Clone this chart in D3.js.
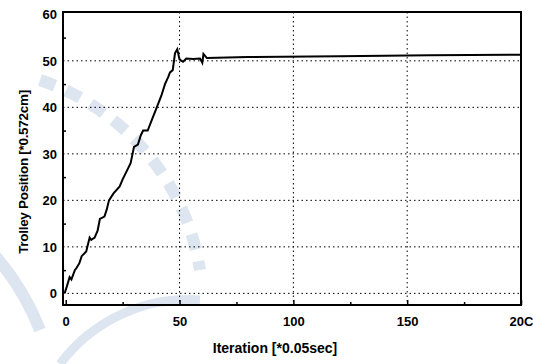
<!DOCTYPE html>
<head>
  <meta charset="utf-8">
  <script src="https://d3js.org/d3.v7.min.js"></script>
  <style>
    body { margin:0; background:#fff; }
    svg { display:block; }
    .tick text { font-family: "Liberation Sans", Arial, sans-serif; font-weight: bold; font-size: 13px; fill:#000; }
    .lbl { font-family: "Liberation Sans", Arial, sans-serif; font-weight: bold; font-size: 14px; }
  </style>
</head>
<body>
<script>
// trolley position
var iter = [-0.5, 0.5, 1.7, 2.5, 4, 4.8, 6, 7, 9, 10.5, 11.2, 12.7, 14, 15, 17, 18, 19, 21, 23.7, 25, 27, 28.5, 30, 31.7, 33, 34, 36, 38, 40, 42, 43.6, 45, 45.8, 47, 48, 49, 50, 51.5, 53, 56, 59, 60, 60.5, 62, 80, 120, 160, 200];
var pos  = [0, 1.5, 3.5, 3, 5, 5.5, 6.5, 8, 9, 12, 11.5, 12, 13.5, 16, 16.5, 18, 20, 21.5, 23, 24.5, 26.5, 28, 31.5, 32, 34, 35, 35, 37.5, 40, 42.5, 45, 46.5, 47.5, 48, 51.6, 52.5, 50.3, 49.8, 50.5, 50.4, 50.5, 49.6, 51.5, 50.6, 50.8, 51, 51.2, 51.3];
var xTicks = [0, 50, 100, 150, 200];
var xTickLabels = ["0", "50", "100", "150", "20C"];
var yTicks = [0, 10, 20, 30, 40, 50, 60];

var W = 533, H = 364;
var svg = d3.select("body").append("svg").attr("width", W).attr("height", H);

// faint watermark arcs
var wm = svg.append("g").attr("fill", "none").attr("stroke", "#dde5f0");
wm.append("path").attr("d", "M-10,250 A260,260 0 0 1 40,330").attr("stroke-width", 12);
wm.append("path").attr("d", "M60,364 A160,160 0 0 1 200,300").attr("stroke-width", 9);
wm.append("path").attr("d", "M40,80 A240,240 0 0 1 200,270").attr("stroke-width", 12).attr("stroke-dasharray", "16,12");

var x = d3.scaleLinear().domain([-1.2, 200]).range([63, 521]);
var y = d3.scaleLinear().domain([-2.5, 60.5]).range([305, 12]);

// dotted grid
var grid = svg.append("g").attr("stroke", "#000").attr("stroke-width", 1).attr("stroke-dasharray", "1.5,3");
grid.selectAll(".gx").data([50, 100, 150]).enter().append("line")
  .attr("x1", d => x(d)).attr("x2", d => x(d)).attr("y1", y(60.5)).attr("y2", y(-2.5));
grid.selectAll(".gy").data([0, 10, 20, 30, 40, 50]).enter().append("line")
  .attr("y1", d => y(d)).attr("y2", d => y(d)).attr("x1", x(-1.2)).attr("x2", x(200));

// axes with inward ticks
var xAxis = svg.append("g").attr("transform", "translate(0," + y(-2.5) + ")")
  .call(d3.axisBottom(x).tickValues(xTicks).tickSize(-5).tickPadding(12)
    .tickFormat((d, i) => xTickLabels[i]));
var xMinor = svg.append("g").attr("transform", "translate(0," + y(-2.5) + ")")
  .call(d3.axisBottom(x).tickValues([25, 75, 125, 175]).tickSize(-3).tickFormat(""));
var yAxis = svg.append("g").attr("transform", "translate(" + x(-1.2) + ",0)")
  .call(d3.axisLeft(y).tickValues(yTicks).tickSize(0).tickPadding(6));
var yMinor = svg.append("g").attr("transform", "translate(" + x(-1.2) + ",0)")
  .call(d3.axisLeft(y).tickValues([5, 15, 25, 35, 45, 55]).tickSize(-3).tickFormat(""));
[xAxis, xMinor, yAxis, yMinor].forEach(function(a) {
  a.select(".domain").remove();
  a.selectAll(".tick line").attr("stroke", "#000").attr("stroke-width", 1.5);
});

// frame
svg.append("rect").attr("x", x(-1.2)).attr("y", y(60.5)).attr("width", x(200) - x(-1.2)).attr("height", y(-2.5) - y(60.5))
  .attr("fill", "none").attr("stroke", "#000").attr("stroke-width", 2);

// data line
svg.append("path").datum(d3.range(iter.length))
  .attr("fill", "none").attr("stroke", "#000").attr("stroke-width", 2)
  .attr("d", d3.line().x(i => x(iter[i])).y(i => y(pos[i])));

svg.append("text").attr("class", "lbl").attr("x", 275).attr("y", 353).attr("text-anchor", "middle")
  .text("Iteration [*0.05sec]");
svg.append("text").attr("class", "lbl").attr("transform", "translate(28,172) rotate(-90)").attr("text-anchor", "middle")
  .style("font-size", "13.5px").style("letter-spacing", "-0.3px")
  .text("Trolley  Position [*0.572cm]");
</script>
</body>
